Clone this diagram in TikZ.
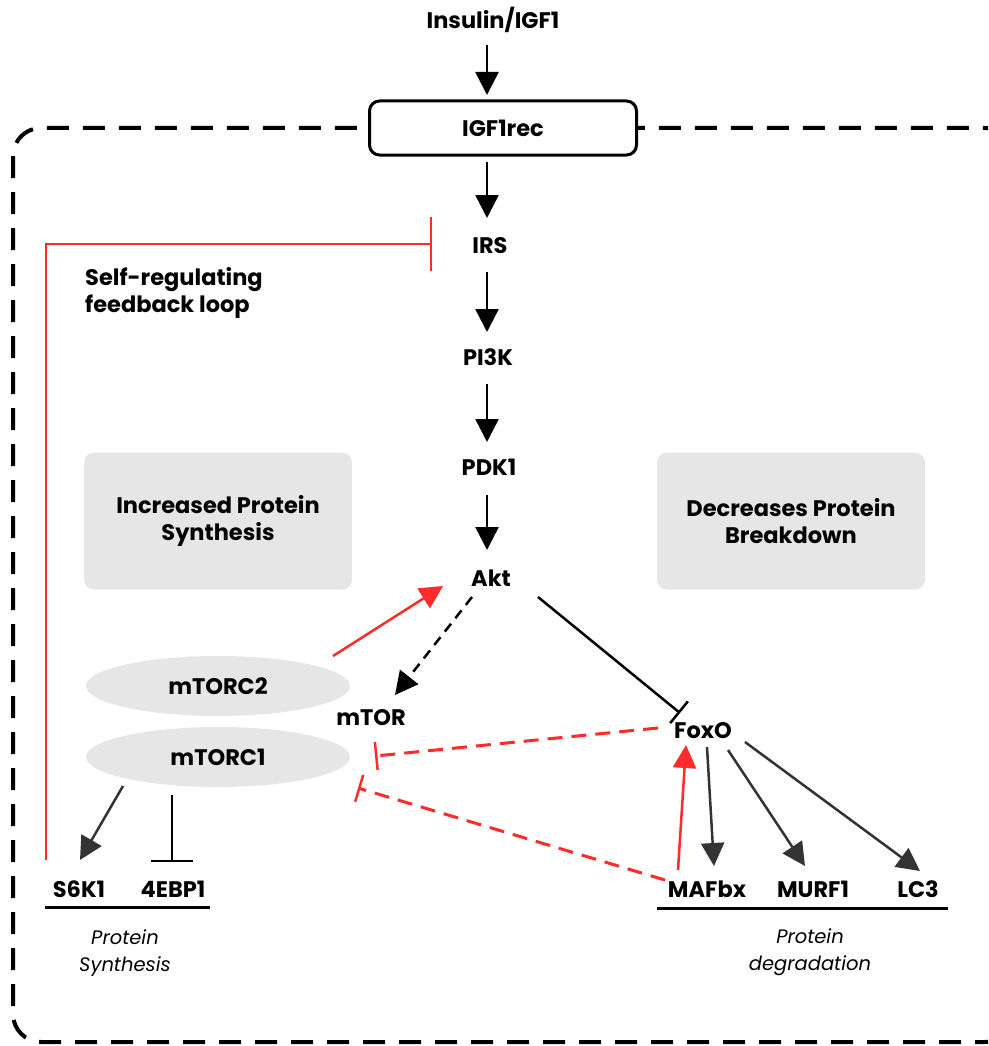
\documentclass[tikz,border=0pt]{standalone}
\usepackage{fontspec}
\setmainfont{Poppins}
\usetikzlibrary{arrows.meta,shapes.geometric}
\definecolor{inhred}{HTML}{FF2A2A}
\definecolor{boxgrey}{HTML}{E6E6E6}
\definecolor{darkarr}{HTML}{333333}
\begin{document}
\begin{tikzpicture}[x=1pt,y=-1pt]
        \tikzset{lbl/.style = {font=\bfseries\fontsize{22.5}{27}\selectfont, inner sep=0pt, align=center}}
        \tikzset{note/.style = {font=\itshape\fontsize{19.5}{27}\selectfont, inner sep=0pt, align=center}}
        \tikzset{greybox/.style = {lbl, fill=boxgrey, rounded corners=10pt, minimum width=268pt, minimum height=137pt}}
        \tikzset{complex/.style = {lbl, ellipse, fill=boxgrey, minimum width=264pt, minimum height=60pt}}
        \tikzset{act/.style = {line width=2.5pt, -{Triangle[length=23pt,width=23pt]}}}
        \tikzset{inh/.style = {line width=2.5pt, -{Bar[width=28pt,line width=2.5pt]}}}
        \useasboundingbox (0,0) rectangle (988,1046);
        \clip (0,0) rectangle (988,1046);
        % cell border
        \draw[line width=4pt, dash pattern=on 22pt off 14pt, rounded corners=28pt] (13,128) rectangle (1013,1042);
        % main pathway
        \node[lbl] (insulin) at (493,20) {Insulin/IGF1};
        \node[lbl, draw, line width=3pt, fill=white, rounded corners=10pt, minimum width=267pt, minimum height=54pt] (igfrec) at (503,128) {IGF1rec};
        \node[lbl] (irs) at (490,246) {IRS};
        \node[lbl] (pik) at (488,357) {PI3K};
        \node[lbl] (pdk) at (489,467) {PDK1};
        \node[lbl] (akt) at (491,578) {Akt};
        % grey boxes
        \node[greybox] (synbox) at (218,521) {Increased Protein\\Synthesis};
        \node[greybox] (brkbox) at (791,521) {Decreases Protein\\Breakdown};
        % mTOR complexes
        \node[complex] (mtorc2) at (218,686) {mTORC2};
        \node[complex] (mtorc1) at (218,757) {mTORC1};
        \node[lbl] (mtor) at (371,718) {mTOR};
        \node[lbl] (foxo) at (703,731) {FoxO};
        % targets
        \node[lbl] (sk) at (79,889) {S6K1};
        \node[lbl] (ebp) at (173,889) {4EBP1};
        \node[lbl] (mafbx) at (707,889) {MAFbx};
        \node[lbl] (murf) at (813,889) {MURF1};
        \node[lbl] (lc3) at (918,889) {LC3};
        \node[lbl, align=left, anchor=west] (loop) at (85,293) {Self-regulating\\feedback loop};
        \node[note] (protsyn) at (125,953) {Protein\\Synthesis};
        \node[note] (protdeg) at (810,952) {Protein\\degradation};
        % underlines
        \draw[line width=3pt] ([shift={(-34,18)}]sk.center) -- ([shift={(37,18)}]ebp.center);
        \draw[line width=3pt] ([shift={(-50,19)}]mafbx.center) -- ([shift={(30,19)}]lc3.center);
        % vertical arrows
        \draw[act] ([shift={(-6,25)}]insulin.center) -- ([shift={(-16,-33)}]igfrec.center);
        \draw[act] ([shift={(-16,34)}]igfrec.center) -- ([shift={(-3,-28)}]irs.center);
        \draw[act] ([shift={(-3,26)}]irs.center) -- ([shift={(-1,-25)}]pik.center);
        \draw[act] ([shift={(-1,27)}]pik.center) -- ([shift={(-2,-25)}]pdk.center);
        \draw[act] ([shift={(-2,28)}]pdk.center) -- ([shift={(-4,-28)}]akt.center);
        % feedback loop
        \draw[inhred, line width=2.5pt, -{Bar[width=54pt,line width=2.5pt]}] ([shift={(-33,-29)}]sk.center) |- ([shift={(-58,-2)}]irs.center);
        % Akt branches
        \draw[act, inhred] ([shift={(115,-30)}]mtorc2.center) -- ([shift={(-48,8)}]akt.center);
        \draw[act, dash pattern=on 10pt off 7pt] ([shift={(-19,19)}]akt.center) -- ([shift={(24,-23)}]mtor.center);
        \draw[inh] ([shift={(47,19)}]akt.center) -- ([shift={(-23,-18)}]foxo.center);
        % inhibition of mTOR
        \draw[inh, inhred, line width=3pt, dash pattern=on 15pt off 9pt] ([shift={(-45,-3)}]foxo.center) -- ([shift={(4,38)}]mtor.center);
        \draw[inh, inhred, line width=3pt, dash pattern=on 15pt off 9pt] ([shift={(-42,-9)}]mafbx.center) -- ([shift={(-13,70)}]mtor.center);
        % FoxO targets
        \draw[act, inhred] ([shift={(-29,-19)}]mafbx.center) -- ([shift={(-17,14)}]foxo.center);
        \draw[act, darkarr] ([shift={(4,16)}]foxo.center) -- ([shift={(7,-23)}]mafbx.center);
        \draw[act, darkarr] ([shift={(25,19)}]foxo.center) -- ([shift={(-8,-23)}]murf.center);
        \draw[act, darkarr] ([shift={(42,11)}]foxo.center) -- ([shift={(2,-18)}]lc3.center);
        % mTORC1 targets
        \draw[act, darkarr] ([shift={(-95,29)}]mtorc1.center) -- ([shift={(1,-29)}]sk.center);
        \draw[line width=2.5pt, -{Bar[width=42pt,line width=2.5pt]}] ([shift={(-46,38)}]mtorc1.center) -- ([shift={(-1,-27)}]ebp.center);
\end{tikzpicture}
\end{document}
